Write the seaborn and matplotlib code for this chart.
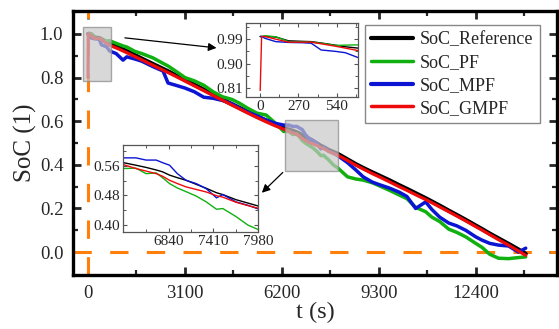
import numpy as np
import pandas as pd
import matplotlib
matplotlib.use("Agg")
import matplotlib.pyplot as plt
from matplotlib.patches import Rectangle
import seaborn as sns

# ---------------- data ----------------
t_s = [0, 10, 35, 110, 200, 300, 360, 430, 530, 600, 690, 900, 1120, 1240, 1500,
       1720, 2080, 2400, 2560, 2800, 3100, 3400, 3700, 4000, 4300, 4600, 4850,
       5100, 5400, 5700, 6000, 6260, 6420, 6550, 6680, 6760, 6850, 6950, 7060,
       7190, 7320, 7450, 7530, 7700, 7850, 7980, 8300, 8570, 8800, 9090, 9300,
       9630, 9950, 10200, 10480, 10800, 11000, 11250, 11540, 11800, 12080,
       12400, 12600, 12850, 13130, 13450, 13770, 14000]

soc_reference = [1.0, 1.0, 1.0, 0.998, 0.984, 0.982, 0.981, 0.976, 0.968, 0.962,
                 0.957, 0.944, 0.929, 0.921, 0.903, 0.887, 0.862, 0.840, 0.829,
                 0.811, 0.789, 0.767, 0.745, 0.722, 0.700, 0.678, 0.661, 0.643,
                 0.622, 0.603, 0.585, 0.569, 0.562, 0.556, 0.549, 0.544, 0.535,
                 0.528, 0.521, 0.510, 0.499, 0.487, 0.482, 0.468, 0.459, 0.451,
                 0.425, 0.403, 0.386, 0.366, 0.352, 0.330, 0.307, 0.290, 0.270,
                 0.247, 0.232, 0.213, 0.190, 0.170, 0.148, 0.122, 0.106, 0.085,
                 0.063, 0.038, 0.012, -0.008]

soc_pf = [1.0, 1.0, 1.003, 0.999, 0.981, 0.980, 0.979, 0.975, 0.967, 0.968,
          0.969, 0.957, 0.945, 0.940, 0.920, 0.910, 0.890, 0.865, 0.853, 0.830,
          0.800, 0.785, 0.765, 0.735, 0.712, 0.700, 0.682, 0.660, 0.637, 0.628,
          0.590, 0.553, 0.554, 0.539, 0.541, 0.528, 0.512, 0.500, 0.490, 0.478,
          0.462, 0.442, 0.444, 0.422, 0.399, 0.387, 0.345, 0.335, 0.330, 0.318,
          0.305, 0.284, 0.262, 0.245, 0.205, 0.185, 0.160, 0.140, 0.105, 0.090,
          0.070, 0.040, 0.022, -0.010, -0.028, -0.030, -0.025, -0.022]

soc_mpf = [1.0, 1.0, 0.993, 0.981, 0.978, 0.977, 0.975, 0.950, 0.945, 0.940,
           0.922, 0.910, 0.880, 0.895, 0.885, 0.875, 0.850, 0.830, 0.775, 0.765,
           0.752, 0.735, 0.710, 0.705, 0.695, 0.680, 0.660, 0.642, 0.625, 0.605,
           0.590, 0.582, 0.582, 0.576, 0.576, 0.569, 0.562, 0.539, 0.521, 0.512,
           0.498, 0.473, 0.482, 0.462, 0.453, 0.443, 0.410, 0.376, 0.345, 0.321,
           0.310, 0.294, 0.275, 0.255, 0.200, 0.230, 0.195, 0.160, 0.133, 0.120,
           0.100, 0.070, 0.055, 0.040, 0.032, 0.028, 0.000, 0.018]

soc_gmpf = [0.80, 1.0, 1.0, 0.990, 0.979, 0.979, 0.979, 0.973, 0.964, 0.957,
            0.948, 0.936, 0.922, 0.914, 0.896, 0.881, 0.856, 0.834, 0.823, 0.806,
            0.784, 0.762, 0.740, 0.718, 0.696, 0.674, 0.656, 0.638, 0.617, 0.597,
            0.578, 0.5636, 0.553, 0.546, 0.539, 0.532, 0.521, 0.512, 0.503, 0.496,
            0.489, 0.479, 0.475, 0.461, 0.452, 0.445, 0.420, 0.398, 0.381, 0.360,
            0.346, 0.323, 0.300, 0.283, 0.263, 0.241, 0.226, 0.207, 0.185, 0.165,
            0.143, 0.117, 0.101, 0.080, 0.057, 0.032, 0.005, -0.015]

series_names = ["SoC_Reference", "SoC_PF", "SoC_MPF", "SoC_GMPF"]
series_vals = [soc_reference, soc_pf, soc_mpf, soc_gmpf]
series_colors = ["#000000", "#10B010", "#0A14D2", "#EE0A0A"]
series_lw = [3.0, 2.5, 2.5, 2.3]

x_ticks = [0, 3100, 6200, 9300, 12400]
y_ticks = [0.0, 0.2, 0.4, 0.6, 0.8, 1.0]
inset1_xticks = [0, 270, 540]
inset1_yticks = [0.81, 0.90, 0.99]
inset2_xticks = [6840, 7410, 7980]
inset2_yticks = [0.40, 0.48, 0.56]

# ---------------- style ----------------
sns.set_theme(style="ticks")
plt.rcParams["font.family"] = ["Liberation Serif", "DejaVu Serif"]
plt.rcParams["axes.unicode_minus"] = False

fig = plt.figure(figsize=(5.59, 3.29), dpi=100)
ax = fig.add_axes([0.1306, 0.1641, 0.8658, 0.8024])

orange = "#FF7F0A"
ax.axhline(0, color=orange, lw=2.2, dashes=(6, 6), zorder=1)
ax.axvline(0, color=orange, lw=2.2, dashes=(6, 6), zorder=1)

for name, vals, c, lw in zip(series_names, series_vals, series_colors, series_lw):
    sns.lineplot(x=t_s, y=vals, ax=ax, color=c, lw=lw, label=name,
                 estimator=None, sort=False, zorder=3)

ax.set_xlim(-480, 15000)
ax.set_ylim(-0.105, 1.105)
ax.set_xticks(x_ticks)
ax.set_yticks(y_ticks)
ax.set_xticks([1550, 4650, 7750, 10850, 13950], minor=True)
ax.set_yticks([0.1, 0.3, 0.5, 0.7, 0.9], minor=True)
ax.set_yticklabels([f"{v:.1f}" for v in y_ticks])
ax.tick_params(which="both", direction="in", top=True, right=True,
               labelsize=13.5, pad=7)
ax.tick_params(which="major", length=6, width=2)
ax.tick_params(which="minor", length=3.5, width=1.6)
for s in ax.spines.values():
    s.set_linewidth(2.4)
    s.set_color("black")
ax.set_xlabel("t (s)", fontsize=17.5, labelpad=0)
ax.set_ylabel("SoC (1)", fontsize=18, labelpad=2)

# zoom boxes
ax.add_patch(Rectangle((-160, 0.784), 893, 0.248, facecolor="#c8c8c8",
                       edgecolor="#888888", lw=1.0, alpha=0.7, zorder=5))
ax.add_patch(Rectangle((6312, 0.372), 1689, 0.234, facecolor="#c8c8c8",
                       edgecolor="#888888", lw=1.0, alpha=0.7, zorder=5))

# arrows
ax.annotate("", xy=(4110, 0.936), xytext=(1180, 0.982),
            arrowprops=dict(arrowstyle="-|>", color="black", lw=0.9,
                            mutation_scale=12, shrinkA=0, shrinkB=0), zorder=6)
ax.annotate("", xy=(5560, 0.272), xytext=(6230, 0.365),
            arrowprops=dict(arrowstyle="-|>", color="black", lw=0.9,
                            mutation_scale=12, shrinkA=0, shrinkB=0), zorder=6)

leg = ax.legend(loc="upper right", bbox_to_anchor=(0.965, 0.947),
                borderaxespad=0, fontsize=13, frameon=True, fancybox=False,
                edgecolor="#888888", framealpha=1, handlelength=2.3,
                handletextpad=0.4, labelspacing=0.32, borderpad=0.35)
leg.get_frame().set_linewidth(1.0)
for h, lw in zip(leg.get_lines(), [3.0, 2.5, 3.0, 2.5]):
    h.set_linewidth(lw)
leg.set_zorder(10)


def style_inset(a):
    for s in a.spines.values():
        s.set_linewidth(0.9)
        s.set_color("#555555")
    a.tick_params(which="both", direction="in", top=True, right=True,
                  labelsize=11, pad=2, color="#555555")
    a.tick_params(which="major", length=3, width=0.8)
    a.tick_params(which="minor", length=2, width=0.7)
    a.set_xlabel("")
    a.set_ylabel("")


# inset 1
ax1 = fig.add_axes([0.4401, 0.7052, 0.2004, 0.2249])
for vals, c in zip(series_vals, series_colors):
    sns.lineplot(x=t_s, y=vals, ax=ax1, color=c, lw=1.0, estimator=None, sort=False)
ax1.set_xlim(-100, 690)
ax1.set_ylim(0.776, 1.05)
ax1.set_xticks(inset1_xticks)
ax1.set_xticks([135, 405, 675], minor=True)
ax1.set_yticks(inset1_yticks)
ax1.set_yticks([0.855, 0.945, 1.035], minor=True)
ax1.set_yticklabels([f"{v:.2f}" for v in inset1_yticks])
style_inset(ax1)

# inset 2
ax2 = fig.add_axes([0.2200, 0.2948, 0.2415, 0.2644])
for vals, c in zip(series_vals, series_colors):
    sns.lineplot(x=t_s, y=vals, ax=ax2, color=c, lw=1.0, estimator=None, sort=False)
ax2.set_xlim(6255, 7980)
ax2.set_ylim(0.380, 0.617)
ax2.set_xticks(inset2_xticks)
ax2.set_xticks([6555, 7125, 7695], minor=True)
ax2.set_yticks(inset2_yticks)
ax2.set_yticks([0.44, 0.52, 0.60], minor=True)
ax2.set_yticklabels([f"{v:.2f}" for v in inset2_yticks])
style_inset(ax2)

fig.savefig("out.png", dpi=100)
